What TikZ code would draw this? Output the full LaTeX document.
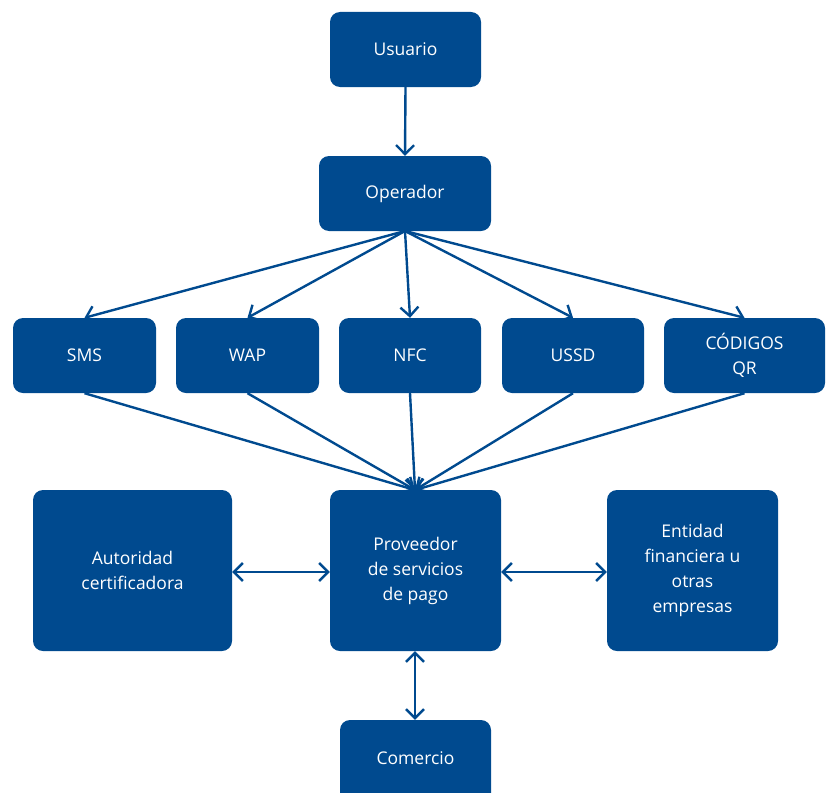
\documentclass[tikz,border=0pt]{standalone}
\usepackage{fontspec}
\setmainfont{Open Sans}
\usetikzlibrary{arrows.meta}
\definecolor{boxblue}{RGB}{0,74,143}
\begin{document}
\begin{tikzpicture}[x=1pt,y=-1pt,
  box/.style={fill=boxblue,text=white,rounded corners=10pt,inner sep=0pt,align=center,
    font=\fontsize{17.5}{25}\selectfont},
  tip/.tip={Straight Barb[length=9pt,width=18pt,line width=2.4pt]},
  conn/.style={draw=boxblue,line width=2.4pt,-tip},
  conn2/.style={draw=boxblue,line width=2.4pt,tip-tip}]
\useasboundingbox (0,0) rectangle (826,792);
\node[box,minimum width=151pt,minimum height=75pt] (usu) at (405.5,49.5) {Usuario};
\node[box,minimum width=172pt,minimum height=75pt] (ope) at (405,193.5) {Operador};
\node[box,minimum width=143pt,minimum height=75pt] (sms) at (84.5,355.5) {SMS};
\node[box,minimum width=143pt,minimum height=75pt] (wap) at (247.5,355.5) {WAP};
\node[box,minimum width=142pt,minimum height=75pt] (nfc) at (410,355.5) {NFC};
\node[box,minimum width=142pt,minimum height=75pt] (ussd) at (573,355.5) {USSD};
\node[box,minimum width=161pt,minimum height=75pt] (qr) at (744.5,355.5) {CÓDIGOS\\QR};
\node[box,minimum width=199pt,minimum height=161pt] (aut) at (132.5,570.5) {Autoridad\\certificadora};
\node[box,minimum width=171pt,minimum height=161pt] (pro) at (415.5,570.5) {Proveedor\\de servicios\\de pago};
\node[box,minimum width=171pt,minimum height=161pt] (ent) at (692.5,570.5) {Entidad\\financiera u\\otras\\empresas};
\node[box,minimum width=151pt,minimum height=90pt] (com) at (415.5,765) {};
\node[text=white,font=\fontsize{17.5}{25}\selectfont] (comt) at (415.5,758) {Comercio};
\coordinate (opb) at (405,231);
\coordinate (prt) at (415,490);
\draw[conn] (usu.south) -- (ope.north);
\draw[conn] (opb) -- (sms.north);
\draw[conn] (opb) -- (wap.north);
\draw[conn] (opb) -- (nfc.north);
\draw[conn] (opb) -- (ussd.north);
\draw[conn] (opb) -- (qr.north);
\draw[conn] (sms.south) -- (prt);
\draw[conn] (wap.south) -- (prt);
\draw[conn] (nfc.south) -- (prt);
\draw[conn] (ussd.south) -- (prt);
\draw[conn] (qr.south) -- (prt);
\draw[conn2] (aut.east |- 0,572) -- (pro.west |- 0,572);
\draw[conn2] (pro.east |- 0,572) -- (ent.west |- 0,572);
\draw[conn2] (pro.south -| 415,0) -- (com.north -| 415,0);
\end{tikzpicture}
\end{document}
